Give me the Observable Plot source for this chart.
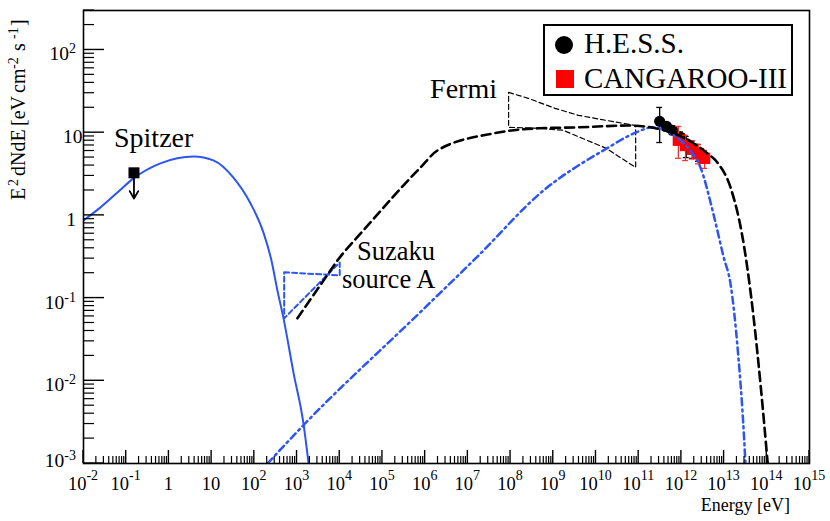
<!DOCTYPE html>
<html><head><meta charset="utf-8">
<script src="https://cdn.jsdelivr.net/npm/d3@7"></script>
<script src="https://cdn.jsdelivr.net/npm/@observablehq/plot@0.6"></script>
<style>body{margin:0;background:#fff}#chart{width:830px;height:521px}</style>
</head><body><div id="chart"></div>
<script>
// ---- data ----
const syncE = [0.01, 0.025, 0.063, 0.148, 0.63, 3.8, 11, 32, 81, 166, 251, 347, 479, 832, 1413, 1862];
const syncF = [0.87, 1.25, 1.9, 2.8, 4.26, 5.16, 4.62, 2.88, 1.40, 0.605, 0.286, 0.124, 0.058, 0.0123, 0.00305, 0.001];

const icE = [1.02e3, 4.7e3, 8.9e3, 3.6e4, 7.8e5, 1.95e6, 4.0e7, 4.6e8, 3.9e9, 5.8e10, 1.9e11, 6.6e11, 1.95e12, 4.1e12, 7.1e12, 1.41e13, 2.9e13, 4.9e13, 7.1e13, 1.05e14];
const icF = [0.057, 0.178, 0.286, 0.66, 3.8, 6.1, 9.8, 11.3, 11.6, 12.2, 11.6, 9.8, 7.4, 5.6, 4.3, 2.19, 0.44, 0.059, 0.0093, 0.001];

const ddE = [204, 1.41e3, 7.8e5, 1.7e7, 5.9e8, 1.66e10, 8.5e10, 2.1e11, 6.6e11, 1.6e12, 2.8e12, 5.6e12, 9.8e12, 1.41e13, 2.1e13, 2.9e13, 3.16e13];
const ddF = [0.001, 0.0029, 0.068, 0.32, 2.0, 6.3, 10.0, 11.6, 9.3, 6.1, 3.8, 1.05, 0.31, 0.15, 0.023, 0.0023, 0.001];

const suzE = [500, 1e4];
const suzUpF = [0.205, 0.188];
const suzLoF = [0.057, 0.27];

const fermiUpE = [9e7, 2.6e8, 1.1e9, 3.9e9, 1.7e10, 8.5e10];
const fermiUpF = [30.7, 26.0, 19.7, 16.2, 14.1, 12.2];
const fermiLoE = [9e7, 4.6e8, 1.7e9, 4.9e9, 1.7e10, 8.5e10];
const fermiLoF = [11.6, 11.3, 10.7, 8.5, 6.5, 3.8];

const hessE = [3.1e11, 4.5e11, 6.2e11, 9.6e11, 1.3e12, 1.8e12, 2.5e12];
const hessF = [13.7, 11.9, 10.7, 8.8, 7.4, 6.4, 5.8];
const hessLo = [7.6, 10.5, 9.5, 7.3, 5.0, 4.9, 4.5];
const hessHi = [20.2, 13.3, 12.0, 10.2, 9.0, 7.9, 7.2];

const cangE = [8.5e11, 1.25e12, 1.8e12, 2.5e12, 3.5e12];
const cangF = [8.1, 7.0, 6.3, 5.6, 4.9];
const cangLo = [4.9, 4.6, 4.8, 4.2, 3.7];
const cangHi = [11.9, 9.3, 8.0, 7.2, 6.1];

const spitzerE = [0.152];
const spitzerF = [3.27];
const spitzerArrowF = [1.6];

const xExponents = d3.range(-2, 16);
const yExponents = d3.range(-3, 3);

const annotations = [
  {text: "Spitzer", E: 0.0532, F: 6.64, size: 28},
  {text: "Fermi", E: 1.34e6, F: 26, size: 28},
  {text: "Suzaku", E: 2.6e4, F: 0.285, size: 26.5},
  {text: "source A", E: 1.16e4, F: 0.131, size: 26.5}
];
const legendItems = ["H.E.S.S.", "CANGAROO-III"];

// ---- tables ----
const zip = (E, F) => E.map((e, i) => ({E: e, F: F[i]}));
const sync = zip(syncE, syncF);
const ic = zip(icE, icF);
const dd = zip(ddE, ddF);
const suz = [
  {E: suzE[0], F: suzUpF[0]}, {E: suzE[1], F: suzUpF[1]},
  {E: suzE[1], F: suzLoF[1]}, {E: suzE[0], F: suzLoF[0]},
  {E: suzE[0], F: suzUpF[0]}
];
const fermi = [...zip(fermiUpE, fermiUpF), ...zip(fermiLoE, fermiLoF).reverse(), {E: fermiUpE[0], F: fermiUpF[0]}];
const hess = hessE.map((e, i) => ({E: e, F: hessF[i], lo: hessLo[i], hi: hessHi[i]}));
const cang = cangE.map((e, i) => ({E: e, F: cangF[i], lo: cangLo[i], hi: cangHi[i]}));
const spitzer = spitzerE.map((e, i) => ({E: e, F: spitzerF[i], Fend: spitzerArrowF[i]}));

const blue = "#2d55f3";
const capW = 1.17;
const caps = (data, stroke) => [
  Plot.ruleY(data, {y: "lo", x1: d => d.E / capW, x2: d => d.E * capW, stroke, strokeWidth: 1.3}),
  Plot.ruleY(data, {y: "hi", x1: d => d.E / capW, x2: d => d.E * capW, stroke, strokeWidth: 1.3})
];

const plot = Plot.plot({
  width: 830, height: 521,
  marginLeft: 83, marginRight: 21, marginTop: 10, marginBottom: 58,
  style: {fontFamily: "Liberation Serif", background: "white"},
  x: {type: "log", domain: [1e-2, 1e15], axis: null},
  y: {type: "log", domain: [1e-3, 300], axis: null},
  marks: [
    Plot.ruleX(hess, {x: "E", y1: "lo", y2: "hi", stroke: "black", strokeWidth: 1.3}),
    ...caps(hess, "black"),
    Plot.dot(hess, {x: "E", y: "F", r: 5.6, fill: "black"}),
    Plot.ruleX(cang, {x: "E", y1: "lo", y2: "hi", stroke: "#f03030", strokeWidth: 1.3}),
    ...caps(cang, "#f03030"),
    Plot.dot(cang, {x: "E", y: "F", symbol: "square", r: 6.4, fill: "#ff0000"}),
    Plot.line(fermi, {x: "E", y: "F", stroke: "black", strokeWidth: 1.2, strokeDasharray: "5,3"}),
    Plot.line(suz, {x: "E", y: "F", stroke: blue, strokeWidth: 2, strokeDasharray: "5,3"}),
    Plot.line(sync, {x: "E", y: "F", stroke: blue, strokeWidth: 2, curve: "monotone-x", clip: true}),
    Plot.line(dd, {x: "E", y: "F", stroke: blue, strokeWidth: 2.5, strokeDasharray: "7,4,2,4", curve: "monotone-x", clip: true}),
    Plot.line(ic, {x: "E", y: "F", stroke: "black", strokeWidth: 2.6, strokeDasharray: "9,5", curve: "monotone-x", clip: true}),
    Plot.arrow(spitzer, {x1: "E", y1: "F", x2: "E", y2: "Fend", stroke: "black", strokeWidth: 1.8, headLength: 8, headAngle: 60}),
    Plot.dot(spitzer, {x: "E", y: "F", symbol: "square", r: 6.2, fill: "black"}),
    Plot.frame({stroke: "black", strokeWidth: 1.6})
  ]
});
document.getElementById("chart").append(plot);

// ---- custom ROOT-style axes, labels, legend ----
const svg = d3.select(plot);
const sx = plot.scale("x"), sy = plot.scale("y");
const X = v => sx.apply(v), Y = v => sy.apply(v);
const x0 = X(1e-2), y0 = Y(1e-3);
const g = svg.append("g").attr("font-family", "Liberation Serif").attr("fill", "black").attr("text-anchor", "start");

// x ticks
xExponents.forEach(k => {
  const x = X(10 ** k);
  g.append("line").attr("x1", x).attr("x2", x).attr("y1", y0).attr("y2", y0 - 13).attr("stroke", "black").attr("stroke-width", 1.4);
  if (k < 15) for (let m = 2; m <= 9; m++) {
    const xm = X(m * 10 ** k);
    g.append("line").attr("x1", xm).attr("x2", xm).attr("y1", y0).attr("y2", y0 - 7).attr("stroke", "black").attr("stroke-width", 1.2);
  }
  const t = g.append("text").attr("x", x).attr("y", y0 + 27).attr("text-anchor", "middle").attr("font-size", 18.5);
  if (k === 0) t.text("1");
  else if (k === 1) t.text("10");
  else { t.append("tspan").text("10"); t.append("tspan").attr("dy", -10).attr("font-size", 14).text(String(k)); }
});
// y ticks
yExponents.forEach(k => {
  const y = Y(10 ** k);
  g.append("line").attr("x1", x0).attr("x2", x0 + 21).attr("y1", y).attr("y2", y).attr("stroke", "black").attr("stroke-width", 1.4);
  for (let m = 2; m <= 9; m++) {
    const v = m * 10 ** k;
    if (v > 300) break;
    const ym = Y(v);
    g.append("line").attr("x1", x0).attr("x2", x0 + 11).attr("y1", ym).attr("y2", ym).attr("stroke", "black").attr("stroke-width", 1.2);
  }
  const t = g.append("text").attr("x", k === 1 ? x0 - 0.5 : x0 - 7).attr("y", y + (k === -3 ? 4 : 11)).attr("text-anchor", "end").attr("font-size", 19.5);
  if (k === 0) t.text("1");
  else if (k === 1) t.text("10");
  else { t.append("tspan").text("10"); t.append("tspan").attr("dy", -7).attr("font-size", 14).text(String(k)); }
});

// axis titles
g.append("text").attr("x", 790).attr("y", 511).attr("text-anchor", "end").attr("font-size", 18).text("Energy [eV]");
const yt = g.append("g").attr("transform", "translate(25,0) rotate(-90)");
[["E", 200, 0, 20], ["2", 186, -7.5, 14], ["dNdE", 176, 0, 20], ["[eV", 126, 0, 20], ["cm", 93, 0, 20],
 ["-2", 69, -7.5, 14], ["s", 51, 0, 20], ["-1", 39, -7.5, 14], ["]", 26, 0, 20]].forEach(([s, pos, dv, fs]) => {
  yt.append("text").attr("x", -pos).attr("y", dv).attr("font-size", fs).attr("text-anchor", "start").text(s);
});

// annotations
annotations.forEach(a => {
  g.append("text").attr("x", X(a.E)).attr("y", Y(a.F)).attr("font-size", a.size).attr("text-anchor", "start").text(a.text);
});

// legend
const lg = g.append("g");
lg.append("rect").attr("x", 544).attr("y", 25).attr("width", 248).attr("height", 70).attr("fill", "white").attr("stroke", "black").attr("stroke-width", 2);
lg.append("circle").attr("cx", 564).attr("cy", 45).attr("r", 9).attr("fill", "black");
lg.append("rect").attr("x", 556).attr("y", 70).attr("width", 18).attr("height", 18).attr("fill", "#ff0000");
lg.append("text").attr("x", 584).attr("y", 53).attr("font-size", 29).attr("text-anchor", "start").text(legendItems[0]);
lg.append("text").attr("x", 584).attr("y", 88).attr("font-size", 29).attr("text-anchor", "start").text(legendItems[1]);
</script></body></html>
